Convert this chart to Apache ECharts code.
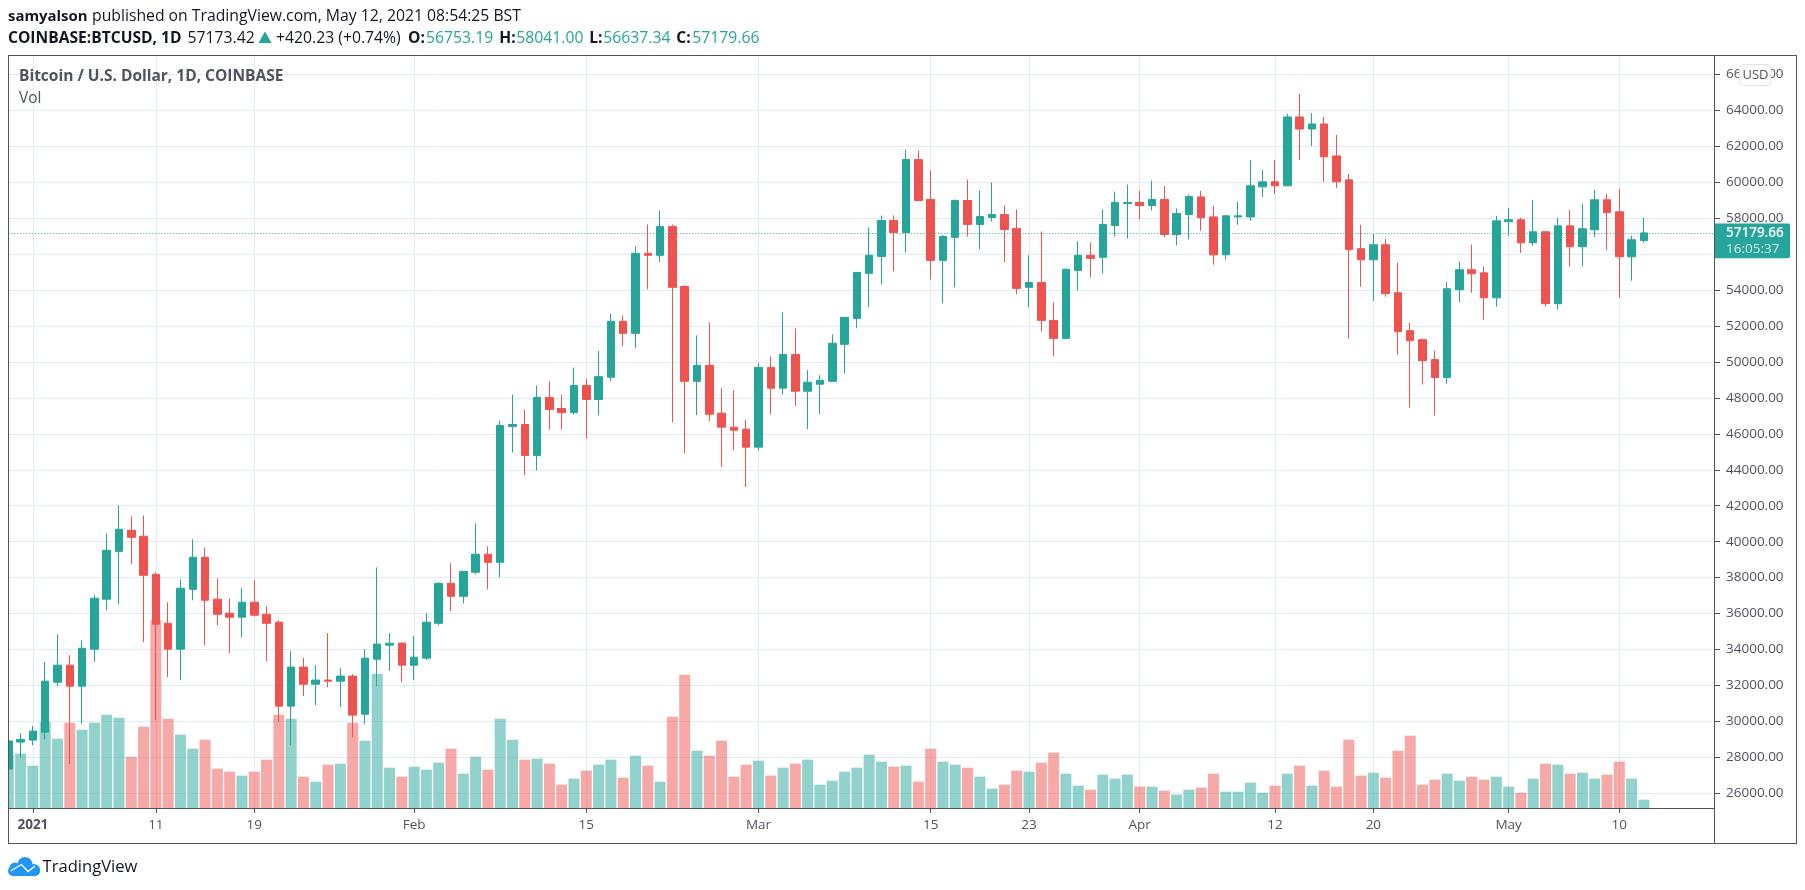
<!DOCTYPE html>
<html><head><meta charset="utf-8">
<style>html,body{margin:0;padding:0;background:#fff}#c{width:1805px;height:890px}</style>
<script src="https://cdn.jsdelivr.net/npm/echarts@6/dist/echarts.min.js"></script>
</head><body><div id="c"></div>
<script>
const dates = ['12-30','12-31',
'01-01','01-02','01-03','01-04','01-05','01-06','01-07','01-08','01-09','01-10','01-11','01-12','01-13','01-14','01-15','01-16','01-17','01-18','01-19','01-20','01-21','01-22','01-23','01-24','01-25','01-26','01-27','01-28','01-29','01-30','01-31',
'02-01','02-02','02-03','02-04','02-05','02-06','02-07','02-08','02-09','02-10','02-11','02-12','02-13','02-14','02-15','02-16','02-17','02-18','02-19','02-20','02-21','02-22','02-23','02-24','02-25','02-26','02-27','02-28',
'03-01','03-02','03-03','03-04','03-05','03-06','03-07','03-08','03-09','03-10','03-11','03-12','03-13','03-14','03-15','03-16','03-17','03-18','03-19','03-20','03-21','03-22','03-23','03-24','03-25','03-26','03-27','03-28','03-29','03-30','03-31',
'04-01','04-02','04-03','04-04','04-05','04-06','04-07','04-08','04-09','04-10','04-11','04-12','04-13','04-14','04-15','04-16','04-17','04-18','04-19','04-20','04-21','04-22','04-23','04-24','04-25','04-26','04-27','04-28','04-29','04-30',
'05-01','05-02','05-03','05-04','05-05','05-06','05-07','05-08','05-09','05-10','05-11','05-12'];
const opens = [27355,28850,
28960,29400,32180,33130,31960,34020,36800,39460,40630,40300,38180,35460,34020,37350,39130,36800,36020,35800,36630,35960,35520,30850,33020,32070,32300,32240,32520,30400,33460,34240,34350,
33130,33520,35460,37680,36960,38300,39300,38850,46410,46520,44800,48020,47410,47180,48690,47910,49150,52260,51590,56040,55930,57540,54200,48920,49810,47150,46370,46260,
45260,49700,48540,50420,48370,48760,48920,50980,52420,54930,55870,57870,57200,61260,59040,55650,56930,58980,57650,58040,58200,57430,54150,54420,52310,51310,55090,55930,55820,57590,58810,
58870,58700,59040,57090,58200,59180,58070,55960,58070,58070,59740,60020,59800,63630,62960,63240,61460,60130,56300,55680,56520,53850,51740,51240,50130,49130,54020,55130,54960,53570,
57800,57910,56630,57240,53240,57570,56410,57350,59020,58350,55850,56753.19];
const closes = [28912,29000,
29460,32240,33130,31960,34070,36850,39520,40690,40240,38130,35410,34020,37410,39130,36740,35960,35800,36630,35910,35460,30850,33020,32070,32300,32240,32520,30350,33520,34300,34350,33130,
33570,35520,37680,36960,38350,39300,38850,46460,46520,44800,48020,47350,47180,48690,47910,49180,52260,51590,56040,55930,57540,54150,48920,49810,47090,46370,46200,45260,
49700,48540,50420,48370,48870,48980,51040,52480,54980,55930,57870,57200,61260,58980,55650,56980,58980,57650,58090,58200,57370,54090,54420,52310,51310,55150,55930,55760,57650,58870,58870,
58700,59040,57090,58260,59200,58020,55960,58130,58130,59800,60020,59800,63630,62960,63240,61410,60020,56240,55680,56520,53800,51680,51180,50070,49130,54070,55130,54910,53570,57850,
57910,56630,57240,53240,57570,56410,57410,59020,58300,55850,56800,57179.66];
const lows = [27320,27980,
28680,29010,31960,27630,29850,33300,36180,36520,38740,34410,30070,32460,32300,36740,34240,35350,33800,34680,35850,33350,29960,28680,31410,30910,31910,30800,29130,29850,31960,32800,32180,
32300,33410,35350,36130,36570,38180,37350,38020,44960,43690,43960,46240,46240,47070,45740,47020,48930,50870,50760,54040,55540,46650,44920,47040,46700,44150,45090,43040,
45090,47090,48200,47540,46260,47090,48920,49370,51870,53040,54310,55040,56090,58930,54590,53260,54150,56980,56260,57810,55540,53760,53040,51700,50310,51260,53980,54700,54930,56980,56870,
57930,58430,56930,56480,56810,57300,55410,55690,57630,57850,59180,59350,59800,61240,62020,60020,59680,51300,54180,53400,53630,50410,47460,48740,47020,48790,53300,53850,52350,53070,
57020,56070,56460,53070,52910,55300,55300,56960,56240,53570,54520,56637.34];
const highs = [29000,29350,
29740,33300,34850,33680,34520,37020,40460,42020,41410,41460,38300,36630,37910,40130,39680,37960,36850,37410,37850,36410,35630,33910,33520,33130,34910,32960,32630,34020,38570,34910,34410,
34740,36020,37740,38800,38350,41020,39740,46740,48180,47350,48690,48910,48180,49690,49070,50600,52700,52590,56430,57650,58430,57650,54260,51480,52200,48540,48420,46760,
49930,50310,52760,51870,49540,49260,51540,52480,54980,57480,58150,58150,61810,61760,60650,57040,59040,60150,59540,59980,58700,58480,55930,57260,53310,55200,56700,56650,58480,59480,59870,
59540,60090,59810,58540,59310,59520,58680,58180,58910,61240,60690,61240,63800,64910,63850,63630,62630,60460,57630,57130,56850,55520,52180,51300,50630,54460,55570,56520,55300,58130,
58570,58020,59020,57300,58020,58460,58800,59570,59350,59630,57020,58041];
const volumes = [160,163,
127,259,208,256,235,256,280,271,154,244,565,268,220,178,205,118,109,97,109,145,280,268,94,79,130,133,256,202,403,121,94,
124,115,136,178,103,154,115,268,205,145,148,133,70,88,112,130,145,91,157,127,79,274,400,172,157,202,94,130,
142,97,121,133,145,70,82,109,121,160,139,124,127,79,178,139,130,121,94,58,70,112,109,136,166,103,67,55,100,88,100,
64,64,52,40,55,61,103,49,49,76,46,67,103,127,67,112,64,205,97,106,91,172,217,70,85,103,82,94,85,94,
64,46,88,133,130,103,106,88,100,139,88,25];
const yTicks = [26000,28000,30000,32000,34000,36000,38000,40000,42000,44000,46000,48000,50000,52000,54000,56000,58000,60000,62000,64000,66000];
const tickDates = ['01-01','01-11','01-19','02-01','02-15','03-01','03-15','03-23','04-01','04-12','04-20','05-01','05-10'];
const tickLabels = ['2021','11','19','Feb','15','Mar','15','23','Apr','12','20','May','10'];
const lastPrice = 57179.66;
const countdown = '16:05:37';

const UP='#26a69a', DOWN='#ef5350', UPV='rgba(38,166,154,0.5)', DOWNV='rgba(239,83,80,0.5)';
const FONT='"Open Sans"', INK='#131722', GREY='#50535e', GRID='#e1ecf2';

const isUp = i => closes[i] >= opens[i];
const candleData = dates.map((d,i)=>[i,opens[i],closes[i],lows[i],highs[i]]);
const volData = dates.map((d,i)=>({value:[i,volumes[i]],itemStyle:{color:isUp(i)?UPV:DOWNV}}));
const tickIdx = tickDates.map(d=>dates.indexOf(d));

function T(x,y,text,o){return {type:'text',z:100,x:x,y:y,silent:true,style:Object.assign({text:text,font:'normal 15.75px '+FONT,fill:INK,textVerticalAlign:'middle'},o||{})};}
function R(x,y,w,h){return {type:'rect',z:98,silent:true,shape:{x:x,y:y,width:w,height:h},style:{fill:GREY}};}
const B='bold 15.6px '+FONT;
const BLUE='#2196f3';
function cloudPart(type,shape){return {type:type,z:100,silent:true,shape:shape,style:{fill:BLUE}};}
const graphics=[
 {type:'rect',z:50,silent:true,shape:{x:0,y:50,width:8,height:800},style:{fill:'#fff'}},
 R(8,55,1789,1),R(8,843,1789,1),R(8,55,1,789),R(1796,55,1,789),R(1714,55,1,789),R(8,808,1706,1),
 T(8,16.5,'samyalson',{font:'bold 14.9px '+FONT}),
 T(92,16.5,'published on TradingView.com, May 12, 2021 08:54:25 BST'),
 T(8,38.5,'COINBASE:BTCUSD, 1D',{font:B}),
 T(187.5,38.5,'57173.42'),
 {type:'polygon',z:100,silent:true,shape:{points:[[265,31.5],[271.5,43],[258.5,43]]},style:{fill:UP}},
 T(276,38.5,'+420.23 (+0.74%)'),
 T(408,38.5,'O:',{font:B}),T(426,38.5,'56753.19',{fill:UP}),
 T(499.3,38.5,'H:',{font:B}),T(516.3,38.5,'58041.00',{fill:UP}),
 T(589.3,38.5,'L:',{font:B}),T(603.3,38.5,'56637.34',{fill:UP}),
 T(676.3,38.5,'C:',{font:B}),T(692.3,38.5,'57179.66',{fill:UP}),
 T(19,77,'Bitcoin / U.S. Dollar, 1D, COINBASE',{font:'bold 15.5px '+FONT,fill:GREY}),
 T(19,98.5,'Vol',{font:'normal 15.5px '+FONT,fill:GREY}),
 {type:'rect',z:100,silent:true,shape:{x:1739.5,y:64.5,width:31.5,height:21,r:4},style:{fill:'#fff',stroke:'#e0e3eb',lineWidth:1}},
 T(1755.5,75.5,'USD',{font:'normal 13px '+FONT,fill:GREY,textAlign:'center'}),
 cloudPart('rect',{x:8,y:866,width:32,height:10,r:5}),
 cloudPart('circle',{cx:15,cy:868,r:5.5}),
 cloudPart('circle',{cx:25,cy:864.5,r:7.5}),
 cloudPart('circle',{cx:34,cy:870,r:6}),
 {type:'polyline',z:101,silent:true,shape:{points:[[10.5,871],[21.5,864.5],[28,871.5],[35,866]]},style:{stroke:'#fff',fill:'none',lineWidth:1.3}},
 T(42.5,867,'TradingView',{font:'normal 16.6px '+FONT,fill:INK})
];

const chart=echarts.init(document.getElementById('c'),null,{renderer:'canvas'});
chart.setOption({
 animation:false,backgroundColor:'#fff',
 textStyle:{fontFamily:FONT},
 grid:{left:8.3,right:91,top:55.5,bottom:82,containLabel:false},
 xAxis:{type:'value',min:0,max:138.7,
  axisLine:{show:false,onZero:false},
  axisTick:{show:true,length:5,lineStyle:{color:GREY},customValues:tickIdx},
  splitLine:{show:true,lineStyle:{color:GRID,width:1}},
  axisLabel:{customValues:tickIdx,margin:10,fontFamily:FONT,fontSize:13.5,color:GREY,
   showMinLabel:true,showMaxLabel:true,hideOverlap:false,
   formatter:v=>{const s=tickLabels[tickIdx.indexOf(v)];return s==='2021'?'{b|2021}':s;},
   rich:{b:{fontFamily:FONT,fontSize:13.5,fontWeight:'bold',color:GREY}}}},
 yAxis:[
  {type:'value',position:'right',min:25182,max:67049,scale:true,
   axisLine:{show:false,onZero:false},
   axisTick:{show:true,length:6,lineStyle:{color:GREY},customValues:yTicks},
   splitLine:{show:true,lineStyle:{color:GRID,width:1}},
   axisLabel:{customValues:yTicks,margin:12,fontFamily:FONT,fontSize:13.5,color:GREY,formatter:v=>v.toFixed(2)}},
  {type:'value',min:0,max:2258,show:false,splitLine:{show:false}}
 ],
 series:[
  {type:'bar',name:'Vol',xAxisIndex:0,yAxisIndex:1,barWidth:11,data:volData,clip:true,silent:true,z:2},
  {type:'candlestick',name:'BTCUSD',xAxisIndex:0,yAxisIndex:0,barWidth:8,data:candleData,clip:true,silent:true,z:3,
   itemStyle:{color:UP,color0:DOWN,borderColor:UP,borderColor0:DOWN,borderColorDoji:UP,borderWidth:1},
   markLine:{silent:true,symbol:'none',animation:false,precision:2,
    lineStyle:{color:UP,type:[1,2],width:1},
    label:{show:true,position:'end',distance:0,offset:[0,8],padding:[1.3,6.4,1.4,12],backgroundColor:UP,borderRadius:[0,2,2,0],
      formatter:'{a|'+lastPrice.toFixed(2)+'}\n{b|'+countdown+'}',
      rich:{a:{color:'#fff',fontFamily:FONT,fontSize:13.5,fontWeight:600,lineHeight:16},b:{color:'#d4eeeb',fontFamily:FONT,fontSize:13.5,lineHeight:16}}},
    data:[{yAxis:lastPrice}]}}
 ],
 graphic:{elements:graphics}
});
</script></body></html>
